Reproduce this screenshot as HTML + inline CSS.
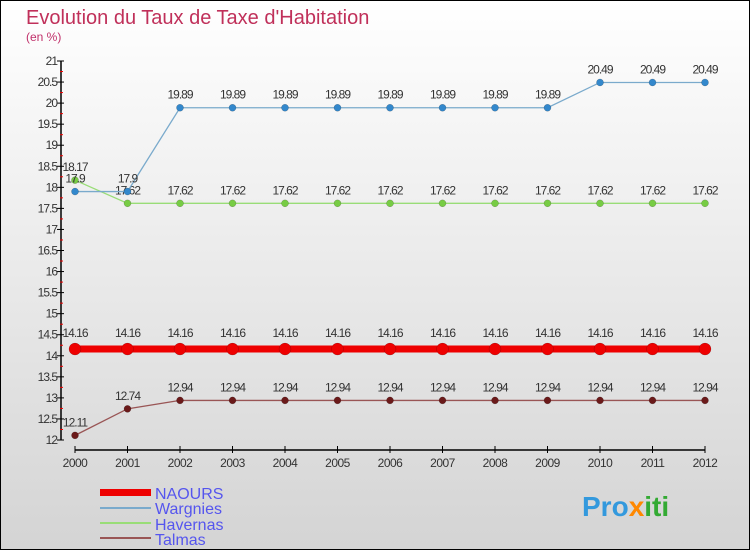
<!DOCTYPE html>
<html><head><meta charset="utf-8"><style>
body{margin:0}
svg{display:block;font-family:"Liberation Sans",sans-serif}
</style></head><body>
<svg width="750" height="550" viewBox="0 0 750 550" id="c">
<defs><linearGradient id="bg" x1="0" y1="0" x2="0" y2="1"><stop offset="0" stop-color="#ffffff"/><stop offset="1" stop-color="#d4d4d4"/></linearGradient></defs>
<rect x="0.5" y="0.5" width="749" height="549" fill="url(#bg)" stroke="#000"/>
<text x="26" y="24" font-size="20" fill="#c0305a">Evolution du Taux de Taxe d'Habitation</text>
<text x="26" y="41" font-size="12" fill="#c0306a">(en %)</text>
<g id="axes"></g>
<g id="series"></g>
<g>
<rect x="100" y="489" width="51" height="7" fill="#ee0000"/>
<text x="155" y="499" font-size="16" fill="#5555ee">NAOURS</text>
<rect x="100" y="507" width="51" height="2" fill="#7aaacc"/>
<text x="155" y="514" font-size="16" fill="#5555ee">Wargnies</text>
<rect x="100" y="522" width="51" height="2" fill="#99dd77"/>
<text x="155" y="530" font-size="16" fill="#5555ee">Havernas</text>
<rect x="100" y="537" width="51" height="2" fill="#995555"/>
<text x="155" y="545" font-size="16" fill="#5555ee">Talmas</text>
</g>
<text x="582" y="516" font-size="28" font-weight="bold" fill="#3399dd">Pro<tspan fill="#ff8800">x</tspan><tspan fill="#33aa33">iti</tspan></text>
</svg>
<script>
const years=[2000,2001,2002,2003,2004,2005,2006,2007,2008,2009,2010,2011,2012];
const yTicks=[12,12.5,13,13.5,14,14.5,15,15.5,16,16.5,17,17.5,18,18.5,19,19.5,20,20.5,21];
const naours=[14.16,14.16,14.16,14.16,14.16,14.16,14.16,14.16,14.16,14.16,14.16,14.16,14.16];
const wargnies=[17.9,17.9,19.89,19.89,19.89,19.89,19.89,19.89,19.89,19.89,20.49,20.49,20.49];
const havernas=[18.17,17.62,17.62,17.62,17.62,17.62,17.62,17.62,17.62,17.62,17.62,17.62,17.62];
const talmas=[12.11,12.74,12.94,12.94,12.94,12.94,12.94,12.94,12.94,12.94,12.94,12.94,12.94];
const NS="http://www.w3.org/2000/svg";
const X=i=>75+i*52.5, Y=v=>440-(v-12)*(379/9);
function mk(t,a,p){const e=document.createElementNS(NS,t);for(const k in a)e.setAttribute(k,a[k]);p.appendChild(e);return e;}
const ax=document.getElementById('axes');
let l=mk('line',{x1:61,y1:Y(21),x2:61,y2:Y(12),stroke:'#000','stroke-width':1.5},ax);


yTicks.forEach(v=>{
 mk('line',{x1:57,y1:Y(v),x2:64,y2:Y(v),stroke:'#000'},ax);
 mk('line',{x1:60,y1:Y(v+0.25),x2:63,y2:Y(v+0.25),stroke:v<21?'#e00':'none'},ax);
 const t=mk('text',{x:57,y:Y(v)+4,'font-size':12,'text-anchor':'end',fill:'#333','letter-spacing':'-1'},ax);t.textContent=v;
 
 
});
l=mk('line',{x1:X(0),y1:450,x2:X(years.length-1),y2:450,stroke:'#000','stroke-width':1.5},ax);


years.forEach((y,i)=>{
 mk('line',{x1:X(i),y1:446,x2:X(i),y2:453,stroke:'#000'},ax);
 const t=mk('text',{x:X(i),y:467,'font-size':12,'text-anchor':'middle',fill:'#333','letter-spacing':'-0.5'},ax);t.textContent=y;
 
 
});
const sg=document.getElementById('series');
function series(name,data,color,lw,r,dot,dy){
 const g=mk('g',{},sg);
 
 
 mk('polyline',{points:data.map((v,i)=>X(i)+','+Y(v)).join(' '),fill:'none',stroke:color,'stroke-width':lw},g);
 data.forEach((v,i)=>{
  const c=mk('circle',{cx:X(i),cy:Y(v),r:r,fill:dot,stroke:'rgba(0,0,0,0.3)','stroke-width':0.5},g);
  
  
  const t=mk('text',{x:X(i),y:Y(v)-dy,'font-size':12,'text-anchor':'middle',fill:'#333','letter-spacing':'-1'},g);t.textContent=v;
  
  
 });
}
series('talmas',talmas,'#995555',1.3,3.5,'#6b1a1a',9);
series('havernas',havernas,'#99dd77',1.3,3.5,'#77cc44',9);
series('wargnies',wargnies,'#7aaacc',1.3,3.5,'#3388cc',9);
series('naours',naours,'#ee0000',7,6,'#ee0000',12);
</script>
</body></html>
